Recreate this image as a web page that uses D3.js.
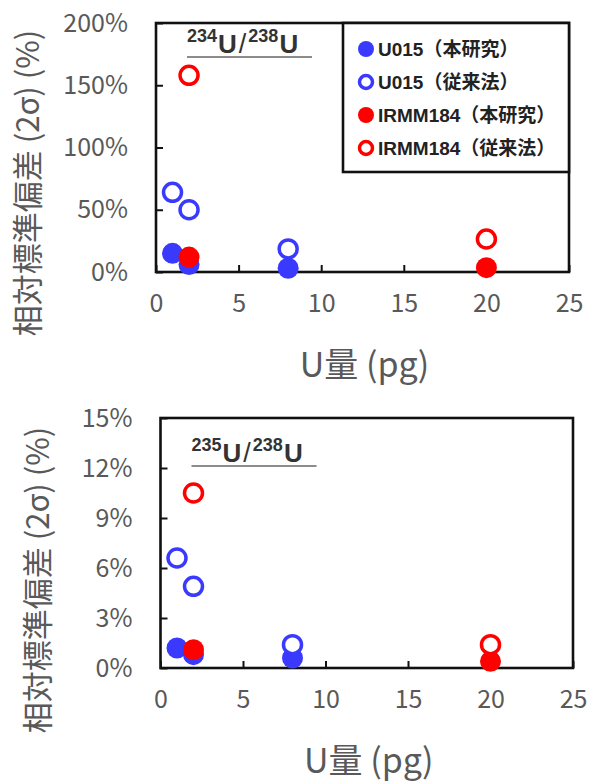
<!DOCTYPE html>
<html>
<head>
<meta charset="utf-8">
<script src="https://cdn.jsdelivr.net/npm/d3@7/dist/d3.min.js"></script>
<style>
  html, body { margin: 0; padding: 0; background: #fff; }
  svg { display: block; }
</style>
</head>
<body>
<script>
// U amount (pg) for each measurement
const u015X = [1, 2, 8];
const irmmX = [2, 20];

// 234U/238U relative standard deviation (2σ, %)
const r234_u015_new = [15, 6, 3];
const r234_u015_old = [64, 50, 18.5];
const r234_irmm_new = [12, 3.5];
const r234_irmm_old = [158, 26.5];

// 235U/238U relative standard deviation (2σ, %)
const r235_u015_new = [1.2, 0.8, 0.6];
const r235_u015_old = [6.6, 4.9, 1.4];
const r235_irmm_new = [1.1, 0.4];
const r235_irmm_old = [10.5, 1.4];

const xTicks = [0, 5, 10, 15, 20, 25];
const yTicks234 = [0, 50, 100, 150, 200];
const yTicks235 = [0, 3, 6, 9, 12, 15];

const legendLabels = ["U015（本研究）", "U015（従来法）", "IRMM184（本研究）", "IRMM184（従来法）"];
const xTitle = "U量 (pg)";
const yTitle = "相対標準偏差 (2σ) (%)";

const BLUE = "#3a3aff";
const RED = "#ff0000";
const GRAY = "#595959";
const LATIN_CJK = "'Noto Sans CJK JP', 'Noto Sans', sans-serif";

const svg = d3.select("body").append("svg")
  .attr("width", 589).attr("height", 784);

function drawPanel(cfg) {
  const x = d3.scaleLinear().domain([0, 25]).range([cfg.left, cfg.right]);
  const y = d3.scaleLinear().domain([0, cfg.yMax]).range([cfg.bottom, cfg.top]);
  const g = svg.append("g");

  // frame
  g.append("rect")
    .attr("x", cfg.left).attr("y", cfg.top)
    .attr("width", cfg.right - cfg.left).attr("height", cfg.bottom - cfg.top)
    .attr("fill", "none").attr("stroke", "#111").attr("stroke-width", 2.6);

  // y axis (ticks point inward)
  const yAxis = g.append("g")
    .attr("transform", `translate(${cfg.left},0)`)
    .call(d3.axisLeft(y).tickValues(cfg.yTicks).tickSize(-7).tickPadding(28)
      .tickFormat(d => d + "%"));
  yAxis.select(".domain").remove();
  yAxis.selectAll(".tick line").attr("stroke", "#111").attr("stroke-width", 2);
  yAxis.selectAll(".tick text")
    .attr("fill", GRAY).style("font-family", LATIN_CJK).style("font-size", "25px");

  // x axis (ticks point inward)
  const xAxis = g.append("g")
    .attr("transform", `translate(0,${cfg.bottom})`)
    .call(d3.axisBottom(x).tickValues(xTicks).tickSize(-7).tickPadding(22));
  xAxis.select(".domain").remove();
  xAxis.selectAll(".tick line").attr("stroke", "#111").attr("stroke-width", 2);
  xAxis.selectAll(".tick text")
    .attr("fill", GRAY).style("font-family", LATIN_CJK).style("font-size", "25px");

  // axis titles
  g.append("text")
    .attr("x", (cfg.left + cfg.right) / 2 + 2).attr("y", cfg.xTitleY)
    .attr("text-anchor", "middle").attr("fill", GRAY)
    .style("font-family", LATIN_CJK).style("font-size", "34px")
    .text(xTitle);
  g.append("text")
    .attr("transform", `translate(${cfg.yTitleX},${cfg.yTitleY}) rotate(-90)`)
    .attr("text-anchor", "middle").attr("fill", GRAY)
    .style("font-family", LATIN_CJK).style("font-size", "31px")
    .text(yTitle);

  // isotope ratio label with underline
  const lbl = g.append("text")
    .attr("x", cfg.left + 31).attr("y", cfg.labelY)
    .attr("fill", "#333")
    .style("font-family", "'Liberation Sans', Arial, sans-serif")
    .style("font-weight", "bold");
  lbl.append("tspan").attr("dy", -11).style("font-size", "18px").text(cfg.isoA);
  lbl.append("tspan").attr("dy", 11).attr("dx", 1).style("font-size", "26px").text("U");
  lbl.append("tspan").attr("dx", 2).style("font-size", "27px").style("font-weight", "normal").text("/");
  lbl.append("tspan").attr("dy", -11).attr("dx", 2).style("font-size", "18px").text("238");
  lbl.append("tspan").attr("dy", 11).attr("dx", 1).style("font-size", "26px").text("U");
  g.append("line")
    .attr("x1", cfg.left + 31).attr("x2", cfg.left + 156)
    .attr("y1", cfg.labelY + 4).attr("y2", cfg.labelY + 4)
    .attr("stroke", "#666").attr("stroke-width", 1.5);

  // series, drawn in legend order
  const series = [
    { xs: u015X, ys: cfg.u015New, color: BLUE, filled: true },
    { xs: u015X, ys: cfg.u015Old, color: BLUE, filled: false },
    { xs: irmmX, ys: cfg.irmmNew, color: RED, filled: true },
    { xs: irmmX, ys: cfg.irmmOld, color: RED, filled: false }
  ];
  series.forEach(s => {
    g.append("g").selectAll("circle")
      .data(s.xs.map((xv, i) => [xv, s.ys[i]]))
      .join("circle")
      .attr("cx", d => x(d[0])).attr("cy", d => y(d[1]))
      .attr("r", s.filled ? 10.5 : 9)
      .attr("fill", s.filled ? s.color : "#fff")
      .attr("stroke", s.filled ? "none" : s.color)
      .attr("stroke-width", s.filled ? 0 : 3.5);
  });
  return { g, series };
}

const upperPanel = drawPanel({
  left: 156, right: 569, top: 23, bottom: 272, yMax: 200, yTicks: yTicks234,
  xTitleY: 377, yTitleX: 39, yTitleY: 183, labelY: 53, isoA: "234",
  u015New: r234_u015_new, u015Old: r234_u015_old,
  irmmNew: r234_irmm_new, irmmOld: r234_irmm_old
});

drawPanel({
  left: 160.5, right: 573, top: 418, bottom: 668, yMax: 15, yTicks: yTicks235,
  xTitleY: 773, yTitleX: 49, yTitleY: 580, labelY: 462, isoA: "235",
  u015New: r235_u015_new, u015Old: r235_u015_old,
  irmmNew: r235_irmm_new, irmmOld: r235_irmm_old
});

// legend in the upper panel
const leg = upperPanel.g.append("g");
leg.append("rect")
  .attr("x", 343).attr("y", 23).attr("width", 226).attr("height", 149)
  .attr("fill", "#fff").attr("stroke", "#111").attr("stroke-width", 2.6);
upperPanel.series.forEach((s, i) => {
  const cy = 49 + i * 33;
  leg.append("circle")
    .attr("cx", 366).attr("cy", cy)
    .attr("r", s.filled ? 8 : 6.5)
    .attr("fill", s.filled ? s.color : "#fff")
    .attr("stroke", s.filled ? "none" : s.color)
    .attr("stroke-width", s.filled ? 0 : 3.5);
  leg.append("text")
    .attr("x", 378).attr("y", cy + 7)
    .attr("fill", "#222")
    .style("font-family", "'Liberation Sans', 'Noto Sans CJK JP', sans-serif")
    .style("font-weight", "bold").style("font-size", "19px")
    .text(legendLabels[i]);
});
</script>
</body>
</html>
